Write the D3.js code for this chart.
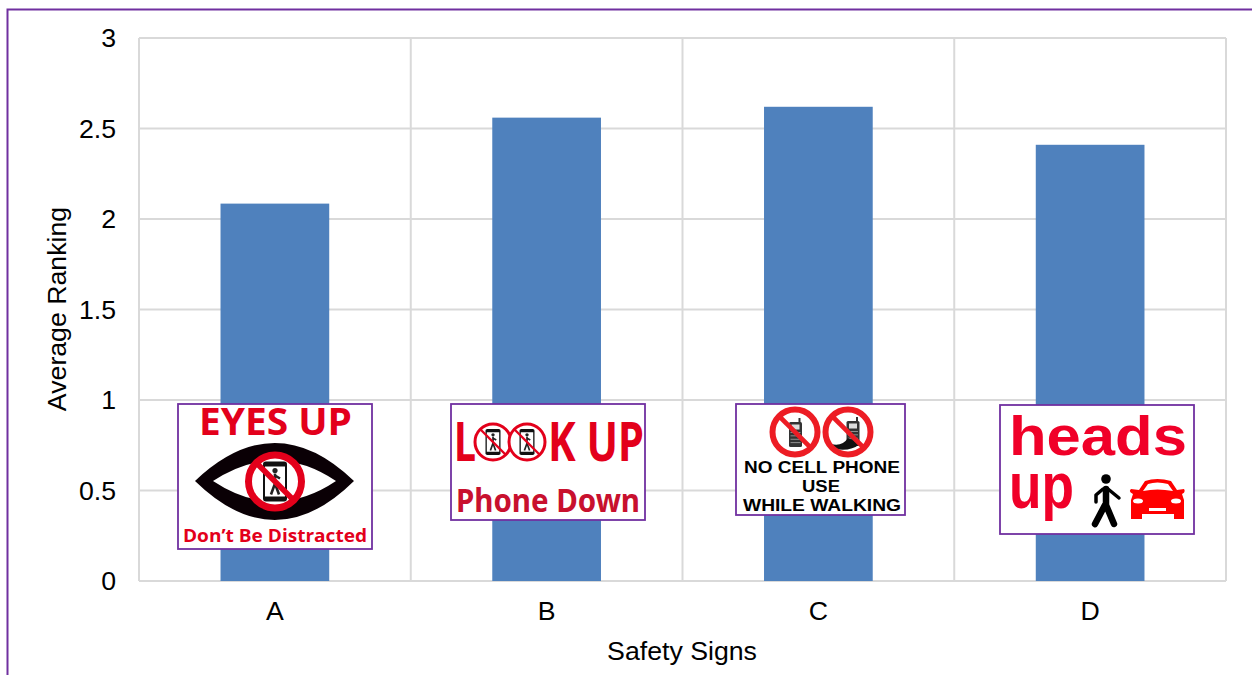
<!DOCTYPE html>
<html><head><meta charset="utf-8">
<script src="https://cdn.jsdelivr.net/npm/d3@7/dist/d3.min.js"></script>
<style>html,body{margin:0;padding:0;background:#fff}svg{display:block}</style></head>
<body><svg id="c" width="1252" height="675"></svg>
<script>
const categories = ["A","B","C","D"];
const values = [2.085,2.56,2.62,2.41];
const yTicks = [0,0.5,1,1.5,2,2.5,3];
const xTitle = "Safety Signs";
const yTitle = "Average Ranking";

const W=1252,H=675;
const m={l:139,r:1226,t:38,b:581};
const FONT='"Liberation Sans",Arial,sans-serif';
const svg=d3.select("#c");
const PURPLE="#7030a0",RED="#e3001b",GRID="#d9d9d9",BAR="#4f81bd";

svg.append("path").attr("d",`M7.5,${H}V9.5H${W}`).attr("fill","none").attr("stroke",PURPLE).attr("stroke-width",2);

const x=d3.scaleBand().domain(categories).range([m.l,m.r]).paddingInner(0.6).paddingOuter(0.3);
const xOuter=d3.scaleBand().domain(categories).range([m.l,m.r]);
const y=d3.scaleLinear().domain([0,3]).range([m.b,m.t]);

const grid=svg.append("g").attr("stroke",GRID).attr("stroke-width",2);
grid.selectAll(".h").data(yTicks).join("line").attr("x1",m.l).attr("x2",m.r).attr("y1",d=>y(d)).attr("y2",d=>y(d));
const vEdges=categories.map(c=>xOuter(c)).concat([m.r]);
grid.selectAll(".v").data(vEdges).join("line").attr("x1",d=>d).attr("x2",d=>d).attr("y1",m.t).attr("y2",m.b);

svg.append("g").selectAll("rect").data(categories).join("rect")
 .attr("x",c=>x(c)).attr("width",x.bandwidth())
 .attr("y",(c,i)=>y(values[i])).attr("height",(c,i)=>y(0)-y(values[i])).attr("fill",BAR);

const yAxis=d3.axisLeft(y).tickValues(yTicks).tickSize(0).tickPadding(23).tickFormat(d=>String(d));
const gy=svg.append("g").attr("transform",`translate(${m.l},0)`).call(yAxis);
gy.select(".domain").remove();
gy.selectAll("text").attr("font-family",FONT).attr("font-size",26.7).attr("fill","#000");
const xAxis=d3.axisBottom(xOuter).tickSize(0).tickPadding(20);
const gx=svg.append("g").attr("transform",`translate(0,${m.b})`).call(xAxis);
gx.select(".domain").remove();
gx.selectAll("text").attr("font-family",FONT).attr("font-size",26.7).attr("fill","#000");

svg.append("text").attr("x",682).attr("y",660).attr("text-anchor","middle").attr("font-family",FONT).attr("font-size",26.7).text(xTitle);
svg.append("text").attr("transform","translate(66,309) rotate(-90)").attr("text-anchor","middle").attr("font-family",FONT).attr("font-size",26.7).text(yTitle);

/* ---- sign overlays ---- */
function box(x0,y0,x1,y1){
 svg.append("rect").attr("x",x0).attr("y",y0).attr("width",x1-x0).attr("height",y1-y0).attr("fill","#fff").attr("stroke",PURPLE).attr("stroke-width",1.8);
}
function txt(s,xp,yp,size,len,o={}){
 return svg.append("text").attr("x",xp).attr("y",yp).attr("font-family",o.font||'"Open Sans",sans-serif')
  .attr("font-weight",o.weight||700).attr("font-size",size).attr("fill",o.fill||RED)
  .attr("textLength",len).attr("lengthAdjust","spacingAndGlyphs").text(s);
}
function phoneIcon(cx,cy,w,h){
 const g=svg.append("g"),u=h/40;
 g.append("rect").attr("x",cx-w/2).attr("y",cy-h/2).attr("width",w).attr("height",h).attr("rx",w*.12).attr("fill","#111");
 g.append("rect").attr("x",cx-w/2+2*u).attr("y",cy-h/2+5*u).attr("width",w-4*u).attr("height",h-10*u).attr("fill","#fff");
 g.append("circle").attr("cx",cx).attr("cy",cy-11*u).attr("r",2.6*u).attr("fill","#222");
 g.append("path").attr("d",`M${cx},${cy-8*u}V${cy+2*u}L${cx-4*u},${cy+13*u}M${cx},${cy+2*u}L${cx+4*u},${cy+13*u}M${cx},${cy-6*u}L${cx+5*u},${cy-3*u}`)
  .attr("fill","none").attr("stroke","#222").attr("stroke-width",2.6*u);
}
function noCircle(cx,cy,r,sw,col){
 svg.append("circle").attr("cx",cx).attr("cy",cy).attr("r",r).attr("fill","none").attr("stroke",col||RED).attr("stroke-width",sw);
 const d=r*Math.SQRT1_2;
 svg.append("line").attr("x1",cx-d).attr("y1",cy-d).attr("x2",cx+d).attr("y2",cy+d).attr("stroke",col||RED).attr("stroke-width",sw*.8);
}

// Sign A
box(178,404,372,549);
txt("EYES UP",199,435,37,153);
svg.append("path").attr("d","M195,481Q275,405 354,481Q275,559 195,481ZM213,481Q275,522 336,481Q275,440 213,481Z")
 .attr("fill","#0a0005").attr("fill-rule","evenodd");
svg.append("circle").attr("cx",275).attr("cy",481.5).attr("r",27).attr("fill","#fff");
phoneIcon(275,481.5,24,40);
noCircle(275,481.5,26.5,7);
txt("Don\u2019t Be Distracted",183,542,18.5,184);

// Sign B
box(451,404,645,520);
txt("L",454,461,53,22,{font:'"Noto Sans",sans-serif'});
[493,527].forEach(c=>{svg.append("circle").attr("cx",c).attr("cy",442).attr("r",18).attr("fill","#fff");phoneIcon(c,442,15,26);noCircle(c,442,18,3);});
txt("K UP",548,461,53,96,{font:'"Noto Sans",sans-serif'});
txt("Phone Down",456,512,32,184,{font:'"Noto Sans",sans-serif',fill:"#c8102e"});

// Sign C
box(736,404,905,515);
const cPhone=(cx,top,h)=>{
 svg.append("rect").attr("x",cx+3).attr("y",top-4).attr("width",2).attr("height",6).attr("fill","#333");
 svg.append("rect").attr("x",cx-6.5).attr("y",top).attr("width",13).attr("height",h).attr("rx",1.5).attr("fill","#333");
 svg.append("rect").attr("x",cx-4).attr("y",top+2.5).attr("width",8).attr("height",5).attr("fill","#ddd");
 [0,1,2,3].forEach(i=>svg.append("rect").attr("x",cx-5).attr("y",top+10+i*3.4).attr("width",10).attr("height",.9).attr("fill","#999"));
};
cPhone(795.5,422,25);cPhone(853,421,25);
svg.append("path").attr("d","M831,444Q842,447 848,438L860,444Q850,452 835,449Z").attr("fill","#111");
noCircle(795,432,22.5,6,"#ed1c24");noCircle(848,432,22.5,6,"#ed1c24");
[["NO CELL PHONE",744,473,156],["USE",802,492,38],["WHILE WALKING",743,510.5,158]].forEach(d=>
 txt(d[0],d[1],d[2],16.8,d[3],{font:FONT,fill:"#000"}));

// Sign D
box(1000,405,1194,534);
txt("heads",1009,455,56,178,{font:FONT,fill:"#f00028"});
txt("up",1009,508,64,65,{font:FONT,fill:"#f00028"});
svg.append("circle").attr("cx",1106).attr("cy",479).attr("r",4.8).attr("fill","#000");
svg.append("path").attr("d","M1106,489V505M1105,505L1095,524M1106,505L1114,524").attr("stroke","#000").attr("stroke-width",6.5).attr("stroke-linecap","round").attr("fill","none");
svg.append("path").attr("d","M1103,489L1096,495V502M1108,489L1119,498").attr("stroke","#000").attr("stroke-width",3.5).attr("stroke-linecap","round").attr("stroke-linejoin","round").attr("fill","none");
svg.append("path").attr("d","M1139,490L1145,481Q1157,477 1171,481L1177,490L1184,489Q1186,492 1182,494L1184,500V519H1174V514H1142V519H1131V500L1133,494Q1128,492 1131,489Z").attr("fill","#f00");
svg.append("path").attr("d","M1143,491L1148,484Q1157,481 1168,484L1173,491Q1157,488 1143,491Z").attr("fill","#fff");
svg.append("ellipse").attr("cx",1138).attr("cy",501).attr("rx",5).attr("ry",2.5).attr("fill","#fff");
svg.append("ellipse").attr("cx",1176).attr("cy",501).attr("rx",5).attr("ry",2.5).attr("fill","#fff");
svg.append("rect").attr("x",1149).attr("y",508).attr("width",17).attr("height",3).attr("fill","#fff");
</script></body></html>
